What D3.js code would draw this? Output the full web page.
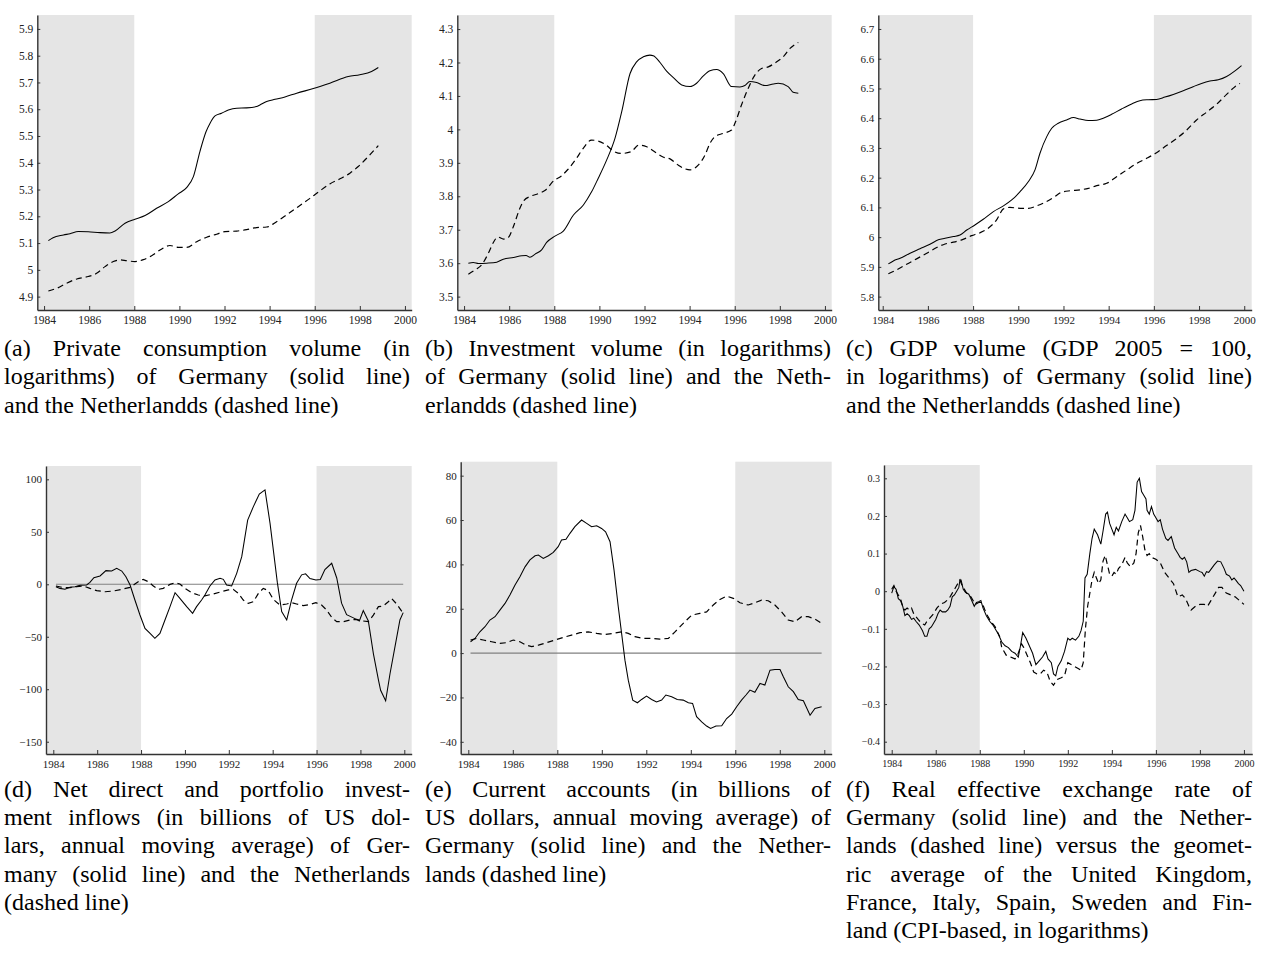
<!DOCTYPE html>
<html>
<head>
<meta charset="utf-8">
<script src="https://cdn.jsdelivr.net/npm/d3@7"></script>
<style>
  body { margin: 0; background: #fff; }
  svg { display: block; }
  .cap { font-family: "Liberation Serif", "Times New Roman", serif; font-size: 24px; fill: #000; }
</style>
</head>
<body>
<svg id="fig" width="1263" height="965"></svg>
<script>
// ---- tick values and labels ----
const yearTicks = [1984, 1986, 1988, 1990, 1992, 1994, 1996, 1998, 2000];
const yearLabels = ["1984", "1986", "1988", "1990", "1992", "1994", "1996", "1998", "2000"];
const shadeYears = [1988, 1996];

const consumptionTicks = [4.9, 5, 5.1, 5.2, 5.3, 5.4, 5.5, 5.6, 5.7, 5.8, 5.9];
const consumptionLabels = ["4.9", "5", "5.1", "5.2", "5.3", "5.4", "5.5", "5.6", "5.7", "5.8", "5.9"];
const investmentTicks = [3.5, 3.6, 3.7, 3.8, 3.9, 4, 4.1, 4.2, 4.3];
const investmentLabels = ["3.5", "3.6", "3.7", "3.8", "3.9", "4", "4.1", "4.2", "4.3"];
const gdpTicks = [5.8, 5.9, 6, 6.1, 6.2, 6.3, 6.4, 6.5, 6.6, 6.7];
const gdpLabels = ["5.8", "5.9", "6", "6.1", "6.2", "6.3", "6.4", "6.5", "6.6", "6.7"];
const inflowTicks = [-150, -100, -50, 0, 50, 100];
const inflowLabels = ["\u2212150", "\u2212100", "\u221250", "0", "50", "100"];
const currentTicks = [-40, -20, 0, 20, 40, 60, 80];
const currentLabels = ["\u221240", "\u221220", "0", "20", "40", "60", "80"];
const reerTicks = [-0.4, -0.3, -0.2, -0.1, 0, 0.1, 0.2, 0.3];
const reerLabels = ["\u22120.4", "\u22120.3", "\u22120.2", "\u22120.1", "0", "0.1", "0.2", "0.3"];

// ---- series: [year, value] ----
const consumptionDE = [[1984.19,5.109],[1984.4,5.12],[1984.86,5.13],[1985.15,5.135],[1985.52,5.143],[1985.96,5.142],[1986.48,5.139],[1986.92,5.138],[1987.15,5.145],[1987.59,5.174],[1988.03,5.189],[1988.48,5.203],[1988.99,5.23],[1989.51,5.255],[1989.95,5.284],[1990.32,5.307],[1990.62,5.348],[1990.91,5.442],[1991.18,5.516],[1991.36,5.548],[1991.58,5.575],[1991.87,5.585],[1992.17,5.597],[1992.54,5.604],[1992.98,5.605],[1993.42,5.61],[1993.57,5.616],[1993.87,5.629],[1994.24,5.637],[1994.68,5.646],[1995.2,5.66],[1995.94,5.677],[1996.67,5.697],[1997.49,5.722],[1998.0,5.729],[1998.52,5.741],[1998.82,5.756]];
const consumptionNL = [[1984.19,4.921],[1984.56,4.931],[1985.0,4.95],[1985.45,4.966],[1985.96,4.975],[1986.33,4.987],[1986.7,5.012],[1987.07,5.031],[1987.37,5.037],[1987.66,5.034],[1988.03,5.031],[1988.4,5.038],[1988.77,5.053],[1989.14,5.074],[1989.58,5.091],[1989.95,5.084],[1990.32,5.084],[1990.77,5.105],[1991.21,5.122],[1991.65,5.133],[1992.02,5.143],[1992.54,5.145],[1992.98,5.15],[1993.42,5.158],[1993.87,5.16],[1994.31,5.18],[1994.75,5.205],[1995.27,5.236],[1995.79,5.267],[1996.23,5.295],[1996.67,5.321],[1997.12,5.34],[1997.56,5.361],[1997.93,5.386],[1998.37,5.423],[1998.82,5.464]];

const investmentDE = [[1984.19,3.6],[1984.41,3.602],[1984.64,3.599],[1985.0,3.6],[1985.45,3.603],[1985.74,3.612],[1986.19,3.617],[1986.56,3.622],[1986.75,3.623],[1986.92,3.618],[1987.15,3.627],[1987.44,3.64],[1987.66,3.662],[1988.03,3.681],[1988.4,3.696],[1988.85,3.744],[1989.29,3.774],[1989.66,3.814],[1989.95,3.854],[1990.32,3.908],[1990.69,3.973],[1990.99,4.053],[1991.36,4.167],[1991.65,4.202],[1991.95,4.217],[1992.24,4.222],[1992.39,4.22],[1992.69,4.2],[1992.98,4.174],[1993.28,4.155],[1993.65,4.133],[1994.02,4.128],[1994.31,4.138],[1994.61,4.16],[1994.9,4.175],[1995.2,4.179],[1995.49,4.167],[1995.86,4.128],[1996.23,4.127],[1996.45,4.131],[1996.67,4.143],[1996.97,4.14],[1997.34,4.131],[1997.71,4.136],[1997.93,4.138],[1998.37,4.128],[1998.59,4.111],[1998.82,4.108]];
const investmentNL = [[1984.19,3.567],[1984.49,3.58],[1984.78,3.595],[1985.08,3.63],[1985.3,3.662],[1985.5,3.678],[1985.75,3.672],[1985.95,3.676],[1986.2,3.712],[1986.45,3.76],[1986.65,3.787],[1986.95,3.8],[1987.3,3.808],[1987.6,3.818],[1988.0,3.848],[1988.3,3.86],[1988.6,3.88],[1988.95,3.91],[1989.3,3.945],[1989.65,3.968],[1989.95,3.965],[1990.3,3.953],[1990.6,3.936],[1990.95,3.928],[1991.4,3.933],[1991.75,3.953],[1992.1,3.948],[1992.45,3.933],[1992.8,3.918],[1993.15,3.911],[1993.5,3.893],[1993.8,3.882],[1994.02,3.879],[1994.38,3.893],[1994.68,3.923],[1994.9,3.958],[1995.12,3.978],[1995.49,3.988],[1995.86,3.998],[1996.01,4.018],[1996.3,4.073],[1996.6,4.123],[1996.9,4.163],[1997.19,4.182],[1997.49,4.187],[1997.86,4.202],[1998.15,4.217],[1998.45,4.242],[1998.82,4.26]];

const gdpDE = [[1984.25,5.91],[1984.47,5.92],[1984.77,5.929],[1985.21,5.946],[1985.65,5.961],[1986.09,5.976],[1986.46,5.991],[1986.76,5.996],[1987.13,6.002],[1987.42,6.007],[1987.72,6.024],[1988.08,6.041],[1988.45,6.06],[1988.9,6.086],[1989.34,6.105],[1989.71,6.125],[1990.08,6.153],[1990.45,6.187],[1990.74,6.226],[1990.96,6.282],[1991.26,6.338],[1991.48,6.366],[1991.77,6.383],[1992.14,6.394],[1992.44,6.402],[1992.73,6.397],[1993.1,6.392],[1993.47,6.393],[1993.76,6.4],[1994.13,6.413],[1994.57,6.431],[1995.02,6.448],[1995.38,6.459],[1995.75,6.462],[1996.12,6.463],[1996.49,6.471],[1996.86,6.48],[1997.3,6.492],[1997.74,6.506],[1998.11,6.517],[1998.48,6.525],[1998.85,6.529],[1999.22,6.54],[1999.59,6.559],[1999.88,6.577]];
const gdpNL = [[1984.25,5.877],[1984.62,5.89],[1985.06,5.909],[1985.5,5.927],[1985.95,5.946],[1986.39,5.965],[1986.76,5.977],[1987.13,5.983],[1987.5,5.991],[1987.94,6.005],[1988.31,6.015],[1988.67,6.03],[1989.04,6.058],[1989.34,6.095],[1989.63,6.1],[1990.08,6.097],[1990.45,6.097],[1990.81,6.105],[1991.18,6.117],[1991.55,6.133],[1991.92,6.151],[1992.29,6.156],[1992.73,6.159],[1993.1,6.164],[1993.47,6.173],[1993.91,6.181],[1994.35,6.203],[1994.8,6.226],[1995.24,6.248],[1995.68,6.265],[1996.12,6.284],[1996.56,6.308],[1997.01,6.332],[1997.45,6.36],[1997.89,6.394],[1998.33,6.42],[1998.78,6.447],[1999.22,6.48],[1999.59,6.506],[1999.81,6.517]];

const inflowsDE = [[1984.12,-2.3],[1984.3,-3.9],[1984.53,-4.8],[1984.76,-2.9],[1984.99,-2.3],[1985.22,-1.0],[1985.52,-0.7],[1985.67,1.8],[1985.85,6.3],[1986.13,7.9],[1986.4,13.0],[1986.66,12.6],[1986.89,15.2],[1987.12,12.6],[1987.31,7.2],[1987.5,-0.7],[1987.72,-15],[1987.95,-29.3],[1988.18,-42],[1988.41,-46.8],[1988.63,-51.5],[1988.86,-46.8],[1989.09,-34],[1989.32,-21.3],[1989.55,-8],[1989.77,-13.4],[1990.08,-21.3],[1990.35,-27.7],[1990.53,-21.3],[1990.76,-15],[1990.91,-10.2],[1991.14,-1.6],[1991.37,4.1],[1991.6,5.7],[1991.75,4.7],[1991.9,-0.7],[1992.13,-1.6],[1992.36,10.4],[1992.59,26.3],[1992.86,61.2],[1993.12,74],[1993.39,86],[1993.65,90],[1993.88,58],[1994.21,2],[1994.41,-26],[1994.64,-34],[1994.86,-15],[1995.09,1],[1995.32,9],[1995.5,10],[1995.7,5.5],[1995.97,4],[1996.17,4.5],[1996.38,14],[1996.69,20],[1996.92,6],[1997.14,-18],[1997.37,-29],[1997.68,-32],[1997.95,-35],[1998.13,-25],[1998.36,-35],[1998.59,-66],[1998.82,-91],[1998.92,-101],[1999.15,-111],[1999.35,-85],[1999.58,-59],[1999.8,-34],[1999.95,-27]];
const inflowsNL = [[1984.12,-1.6],[1984.46,-3.2],[1984.76,-3.2],[1985.06,-2.3],[1985.37,-1.6],[1985.67,-3.9],[1985.98,-6.1],[1986.36,-7.1],[1986.74,-6.4],[1987.12,-4.8],[1987.5,-2.9],[1987.72,0.3],[1987.95,3.4],[1988.1,4.7],[1988.33,2.5],[1988.56,-1.6],[1988.79,-4.8],[1989.01,-3.9],[1989.32,-0.1],[1989.55,1.5],[1989.77,0.3],[1990.0,-3.9],[1990.31,-8],[1990.61,-10.2],[1990.91,-11.1],[1991.29,-9.2],[1991.67,-7],[1991.98,-5.4],[1992.2,-4.8],[1992.43,-8.6],[1992.66,-15],[1992.89,-18.2],[1993.12,-16.6],[1993.35,-8.6],[1993.57,-3.9],[1993.8,-6.1],[1994.03,-14.4],[1994.33,-19.8],[1994.64,-18.8],[1994.86,-17.5],[1995.09,-18.8],[1995.4,-20.4],[1995.7,-19.2],[1995.97,-17.5],[1996.23,-19.8],[1996.46,-24.5],[1996.69,-31.5],[1996.92,-35.6],[1997.22,-35.6],[1997.52,-34],[1997.83,-33.4],[1998.13,-35],[1998.36,-35.6],[1998.59,-29.3],[1998.82,-21.3],[1999.04,-20.7],[1999.27,-16.6],[1999.42,-13.4],[1999.65,-18.8],[1999.95,-27.7]];

const currentDE = [[1984.1,5.1],[1984.3,6.6],[1984.52,9.6],[1984.75,11.9],[1984.97,14.9],[1985.2,16.4],[1985.42,19.4],[1985.65,22.4],[1985.87,26.2],[1986.1,30.7],[1986.32,34.4],[1986.55,38.9],[1986.77,42],[1987.0,43.9],[1987.15,44.2],[1987.37,42.7],[1987.6,43.9],[1987.82,45.4],[1988.04,48],[1988.19,51],[1988.39,51.3],[1988.57,54],[1988.79,57],[1989.09,60],[1989.32,58.5],[1989.54,57],[1989.77,57.4],[1989.99,56.2],[1990.17,54.7],[1990.37,50.2],[1990.55,37.4],[1990.74,20.9],[1990.89,8.9],[1991.04,-3.2],[1991.19,-12.2],[1991.39,-21.2],[1991.6,-22.4],[1991.79,-20.9],[1992.01,-19.4],[1992.24,-20.9],[1992.46,-22],[1992.69,-21.2],[1992.88,-18.9],[1993.14,-19.7],[1993.39,-20.9],[1993.66,-21.2],[1993.89,-22.4],[1994.08,-22.7],[1994.26,-28.7],[1994.49,-31],[1994.71,-32.9],[1994.89,-34],[1995.13,-32.9],[1995.39,-32.8],[1995.61,-29.5],[1995.84,-27.5],[1996.06,-24.2],[1996.28,-21.2],[1996.48,-18.9],[1996.66,-16.7],[1996.88,-17.7],[1997.11,-13.7],[1997.33,-14.4],[1997.56,-7.7],[1997.78,-7.4],[1998.01,-7.4],[1998.16,-10.7],[1998.38,-15.2],[1998.61,-17.4],[1998.83,-20.9],[1999.06,-21.5],[1999.36,-28],[1999.58,-25],[1999.88,-24.2]];
const currentNL = [[1984.1,5.9],[1984.37,6.6],[1984.67,5.9],[1985.05,5.1],[1985.42,4.4],[1985.72,4.7],[1986.02,5.9],[1986.32,5.1],[1986.59,3.6],[1986.85,2.9],[1987.15,3.6],[1987.52,4.7],[1987.9,5.9],[1988.27,7.1],[1988.64,8.1],[1989.02,9.2],[1989.39,9.6],[1989.77,8.9],[1990.14,8.4],[1990.52,8.9],[1990.89,9.6],[1991.19,8.9],[1991.49,7.4],[1991.87,6.6],[1992.24,6.6],[1992.61,6.3],[1992.99,6.6],[1993.29,9.6],[1993.66,13.4],[1994.04,17.1],[1994.41,17.9],[1994.71,18.6],[1995.01,21.7],[1995.31,24.2],[1995.61,25.7],[1995.91,24.7],[1996.21,22.7],[1996.58,21.7],[1996.88,22.7],[1997.18,23.9],[1997.48,23.6],[1997.78,21.7],[1998.08,18.6],[1998.38,14.9],[1998.68,14.1],[1998.98,16.4],[1999.28,16.4],[1999.58,15.3],[1999.88,13.4]];

const reerDE = [[1984.0,-0.005],[1984.1,0.012],[1984.2,0.005],[1984.3,-0.02],[1984.4,-0.025],[1984.5,-0.04],[1984.6,-0.065],[1984.7,-0.06],[1984.8,-0.065],[1984.9,-0.075],[1985.0,-0.072],[1985.1,-0.08],[1985.25,-0.09],[1985.4,-0.105],[1985.5,-0.12],[1985.6,-0.12],[1985.7,-0.1],[1985.8,-0.095],[1985.9,-0.085],[1986.0,-0.075],[1986.1,-0.06],[1986.2,-0.05],[1986.3,-0.055],[1986.45,-0.055],[1986.55,-0.05],[1986.65,-0.04],[1986.75,-0.015],[1986.85,-0.01],[1986.95,0.0],[1987.05,0.01],[1987.1,0.03],[1987.15,0.03],[1987.25,0.005],[1987.35,-0.003],[1987.5,-0.008],[1987.6,-0.02],[1987.75,-0.04],[1987.85,-0.03],[1987.95,-0.028],[1988.05,-0.025],[1988.15,-0.045],[1988.3,-0.065],[1988.45,-0.08],[1988.6,-0.09],[1988.7,-0.1],[1988.85,-0.115],[1989.0,-0.135],[1989.15,-0.145],[1989.3,-0.15],[1989.45,-0.16],[1989.6,-0.165],[1989.75,-0.175],[1989.85,-0.145],[1989.95,-0.11],[1990.1,-0.125],[1990.25,-0.145],[1990.4,-0.165],[1990.55,-0.195],[1990.7,-0.185],[1990.85,-0.175],[1991.0,-0.16],[1991.1,-0.18],[1991.25,-0.19],[1991.35,-0.22],[1991.45,-0.225],[1991.55,-0.2],[1991.7,-0.185],[1991.85,-0.16],[1992.0,-0.125],[1992.1,-0.13],[1992.2,-0.125],[1992.35,-0.13],[1992.5,-0.12],[1992.6,-0.105],[1992.7,-0.08],[1992.78,0.035],[1992.88,0.045],[1993.0,0.1],[1993.1,0.14],[1993.2,0.165],[1993.35,0.15],[1993.5,0.125],[1993.6,0.16],[1993.72,0.205],[1993.8,0.21],[1993.9,0.18],[1994.0,0.165],[1994.1,0.15],[1994.2,0.17],[1994.3,0.16],[1994.45,0.185],[1994.6,0.205],[1994.7,0.195],[1994.8,0.185],[1994.95,0.19],[1995.05,0.215],[1995.15,0.29],[1995.25,0.3],[1995.35,0.265],[1995.45,0.255],[1995.55,0.245],[1995.6,0.215],[1995.7,0.205],[1995.8,0.225],[1995.9,0.205],[1996.0,0.195],[1996.1,0.185],[1996.2,0.19],[1996.3,0.165],[1996.45,0.14],[1996.55,0.135],[1996.7,0.145],[1996.85,0.115],[1997.0,0.1],[1997.1,0.09],[1997.2,0.085],[1997.3,0.09],[1997.4,0.078],[1997.5,0.05],[1997.6,0.055],[1997.8,0.058],[1998.0,0.052],[1998.1,0.05],[1998.2,0.04],[1998.3,0.052],[1998.4,0.05],[1998.5,0.058],[1998.65,0.07],[1998.8,0.08],[1998.95,0.078],[1999.1,0.06],[1999.2,0.045],[1999.35,0.04],[1999.45,0.03],[1999.55,0.035],[1999.65,0.028],[1999.75,0.02],[1999.85,0.015],[2000.0,0.0]];
const reerNL = [[1984.0,0.005],[1984.1,0.015],[1984.2,0.0],[1984.3,-0.01],[1984.4,-0.02],[1984.5,-0.04],[1984.6,-0.05],[1984.7,-0.045],[1984.8,-0.05],[1984.9,-0.045],[1985.0,-0.06],[1985.2,-0.075],[1985.35,-0.085],[1985.5,-0.09],[1985.6,-0.08],[1985.75,-0.07],[1985.9,-0.06],[1986.05,-0.045],[1986.2,-0.035],[1986.4,-0.03],[1986.6,-0.02],[1986.75,-0.005],[1986.9,0.01],[1987.05,0.025],[1987.1,0.03],[1987.2,0.015],[1987.4,-0.005],[1987.6,-0.015],[1987.8,-0.035],[1987.95,-0.03],[1988.1,-0.03],[1988.3,-0.06],[1988.5,-0.08],[1988.7,-0.095],[1988.9,-0.12],[1989.0,-0.15],[1989.2,-0.17],[1989.4,-0.175],[1989.6,-0.18],[1989.75,-0.165],[1989.9,-0.14],[1990.0,-0.15],[1990.15,-0.17],[1990.3,-0.19],[1990.45,-0.215],[1990.6,-0.22],[1990.75,-0.22],[1990.9,-0.21],[1991.05,-0.215],[1991.2,-0.24],[1991.35,-0.25],[1991.5,-0.235],[1991.7,-0.23],[1991.85,-0.225],[1992.0,-0.19],[1992.15,-0.195],[1992.3,-0.2],[1992.45,-0.205],[1992.6,-0.21],[1992.7,-0.19],[1992.8,-0.1],[1992.9,-0.04],[1993.0,-0.005],[1993.1,0.03],[1993.2,0.05],[1993.3,0.035],[1993.4,0.02],[1993.5,0.03],[1993.6,0.08],[1993.7,0.095],[1993.8,0.07],[1993.9,0.045],[1994.0,0.04],[1994.1,0.05],[1994.2,0.045],[1994.3,0.06],[1994.45,0.07],[1994.6,0.09],[1994.7,0.075],[1994.85,0.065],[1995.0,0.075],[1995.1,0.1],[1995.2,0.155],[1995.3,0.175],[1995.4,0.145],[1995.5,0.11],[1995.6,0.095],[1995.7,0.1],[1995.8,0.09],[1996.0,0.085],[1996.2,0.075],[1996.4,0.05],[1996.6,0.035],[1996.8,0.02],[1997.0,-0.015],[1997.2,-0.01],[1997.35,-0.02],[1997.5,-0.04],[1997.6,-0.05],[1997.8,-0.04],[1998.0,-0.035],[1998.2,-0.035],[1998.35,-0.04],[1998.5,-0.025],[1998.7,-0.005],[1998.85,0.01],[1999.0,0.01],[1999.2,-0.005],[1999.4,-0.01],[1999.6,-0.015],[1999.8,-0.025],[2000.0,-0.035]];

// ---- captions (line breaks as typeset) ----
const captionA = ["(a) Private consumption volume (in", "logarithms) of Germany (solid line)", "and the Netherlandds (dashed line)"];
const captionB = ["(b) Investment volume (in logarithms)", "of Germany (solid line) and the Neth-", "erlandds (dashed line)"];
const captionC = ["(c) GDP volume (GDP 2005 = 100,", "in logarithms) of Germany (solid line)", "and the Netherlandds (dashed line)"];
const captionD = ["(d) Net direct and portfolio invest-", "ment inflows (in billions of US dol-", "lars, annual moving average) of Ger-", "many (solid line) and the Netherlands", "(dashed line)"];
const captionE = ["(e) Current accounts (in billions of", "US dollars, annual moving average) of", "Germany (solid line) and the Nether-", "lands (dashed line)"];
const captionF = ["(f) Real effective exchange rate of", "Germany (solid line) and the Nether-", "lands (dashed line) versus the geomet-", "ric average of the United Kingdom,", "France, Italy, Spain, Sweden and Fin-", "land (CPI-based, in logarithms)"];

// ---- panel layout ----
const panels = [
  { box: [37.3, 15, 411.7, 310], xDom: [1983.7, 2000.3], yDom: [4.85, 5.952], de: consumptionDE, nl: consumptionNL, yt: consumptionTicks, yl: consumptionLabels, fs: 11.5, smooth: true, zero: false, cap: captionA, capX: 4, capY: 356 },
  { box: [457.3, 15, 831.7, 310], xDom: [1983.7, 2000.3], yDom: [3.46, 4.342], de: investmentDE, nl: investmentNL, yt: investmentTicks, yl: investmentLabels, fs: 11.5, smooth: true, zero: false, cap: captionB, capX: 425, capY: 356 },
  { box: [878.3, 15, 1251.7, 310], xDom: [1983.805, 2000.33], yDom: [5.755, 6.747], de: gdpDE, nl: gdpNL, yt: gdpTicks, yl: gdpLabels, fs: 11, smooth: true, zero: false, cap: captionC, capX: 846, capY: 356 },
  { box: [46, 466, 411.7, 754], xDom: [1983.667, 2000.337], yDom: [-161.7, 112.7], de: inflowsDE, nl: inflowsNL, yt: inflowTicks, yl: inflowLabels, fs: 11, smooth: false, zero: true, cap: captionD, capX: 4, capY: 796.7 },
  { box: [460.7, 461.7, 831.7, 754], xDom: [1983.658, 2000.333], yDom: [-45.5, 86.3], de: currentDE, nl: currentNL, yt: currentTicks, yl: currentLabels, fs: 11, smooth: false, zero: true, cap: captionE, capX: 425, capY: 796.7 },
  { box: [884, 465, 1252.3, 754], xDom: [1983.65, 2000.38], yDom: [-0.4327, 0.3354], de: reerDE, nl: reerNL, yt: reerTicks, yl: reerLabels, fs: 10, smooth: false, zero: false, cap: captionF, capX: 846, capY: 796.7 }
];

const svg = d3.select("#fig");
svg.append("rect").attr("width", 1263).attr("height", 965).attr("fill", "#fff");

const capWidth = 406;
const capLead = 28.3;

panels.forEach(p => {
  const [l, t, r, b] = p.box;
  const x = d3.scaleLinear().domain(p.xDom).range([l, r]);
  const y = d3.scaleLinear().domain(p.yDom).range([b, t]);
  const g = svg.append("g");

  // shaded sub-periods
  g.append("rect").attr("x", x(p.xDom[0])).attr("y", t)
    .attr("width", x(shadeYears[0]) - x(p.xDom[0])).attr("height", b - t).attr("fill", "#e5e5e5");
  g.append("rect").attr("x", x(shadeYears[1])).attr("y", t)
    .attr("width", x(p.xDom[1]) - x(shadeYears[1])).attr("height", b - t).attr("fill", "#e5e5e5");

  if (p.zero) {
    const x0 = p.de[0][0], x1 = p.de[p.de.length - 1][0];
    g.append("line").attr("x1", x(x0)).attr("x2", x(x1)).attr("y1", y(0)).attr("y2", y(0))
      .attr("stroke", "#808080").attr("stroke-width", 1.1);
  }

  const line = d3.line().x(d => x(d[0])).y(d => y(d[1]))
    .curve(p.smooth ? d3.curveMonotoneX : d3.curveLinear);

  g.append("path").datum(p.nl).attr("d", line).attr("fill", "none")
    .attr("stroke", "#000").attr("stroke-width", 1.2).attr("stroke-dasharray", "6,4");
  g.append("path").datum(p.de).attr("d", line).attr("fill", "none")
    .attr("stroke", "#000").attr("stroke-width", 1.05);

  // axes
  const yAxis = d3.axisLeft(y).tickValues(p.yt).tickFormat((d, i) => p.yl[i])
    .tickSizeInner(-3).tickSizeOuter(0).tickPadding(4);
  const xAxis = d3.axisBottom(x).tickValues(yearTicks).tickFormat((d, i) => yearLabels[i])
    .tickSizeInner(-4).tickSizeOuter(0).tickPadding(6);

  const ga = g.append("g").attr("transform", `translate(${l},0)`).call(yAxis);
  const gx = g.append("g").attr("transform", `translate(0,${b})`).call(xAxis);
  [ga, gx].forEach(a => {
    a.select(".domain").attr("stroke", "#333").attr("stroke-width", 1.4);
    a.selectAll(".tick line").attr("stroke", "#333").attr("stroke-width", 1);
    a.selectAll(".tick text").attr("font-size", p.fs).attr("fill", "#222")
      .attr("font-family", '"Liberation Serif", "Times New Roman", serif');
  });

  // justified caption
  p.cap.forEach((txt, i) => {
    const te = svg.append("text").attr("class", "cap")
      .attr("x", p.capX).attr("y", p.capY + i * capLead).text(txt);
    if (i < p.cap.length - 1) {
      const w = te.node().getComputedTextLength();
      const gaps = (txt.match(/ /g) || []).length;
      if (gaps > 0 && w < capWidth) te.style("word-spacing", ((capWidth - w) / gaps) + "px");
    }
  });
});
</script>
</body>
</html>
